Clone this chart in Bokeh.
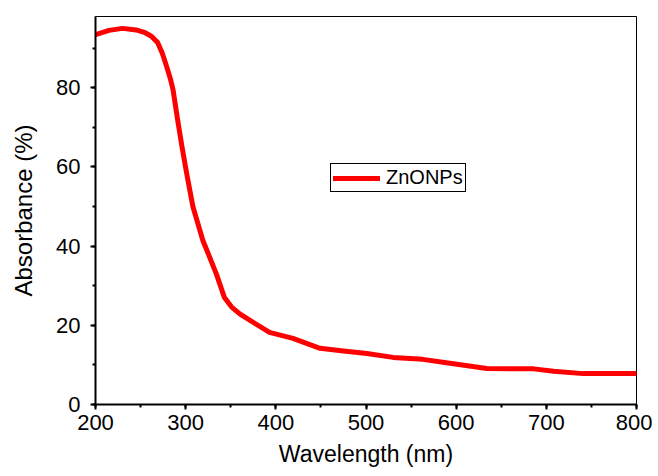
from bokeh.plotting import figure
from bokeh.models import SingleIntervalTicker, Legend, LegendItem, Range1d
from bokeh.embed import file_html
from bokeh.resources import INLINE

wavelength = [200, 215, 230, 245, 255, 262, 269, 274, 279, 283, 286, 291, 296, 301, 308, 319, 334, 343, 351, 360, 371, 393, 419, 449, 475, 501, 530, 563, 593, 634, 660, 686, 708, 741, 770, 800]
absorbance = [93.4, 94.5, 95.0, 94.6, 93.9, 93.0, 91.4, 88.8, 85.3, 82.3, 79.5, 72.0, 65.0, 58.5, 50.0, 41.5, 33.0, 27.0, 24.6, 22.9, 21.3, 18.2, 16.7, 14.2, 13.5, 12.9, 11.9, 11.4, 10.4, 9.1, 9.0, 9.0, 8.4, 7.8, 7.8, 7.8]

FONT = "Liberation Sans"

p = figure(width=652, height=476, output_backend="svg", toolbar_location=None,
           x_range=Range1d(200, 800), y_range=Range1d(0, 98),
           min_border_left=95, min_border_top=16, min_border_right=16, min_border_bottom=72)
p.grid.visible = False
p.outline_line_color = "black"
p.outline_line_width = 1
p.outline_line_alpha = 1

r = p.line(wavelength, absorbance, line_color="#ff0000", line_width=5, line_join="round", line_cap="round")

p.xaxis.ticker = SingleIntervalTicker(interval=100, num_minor_ticks=2)
p.yaxis.ticker = SingleIntervalTicker(interval=20, num_minor_ticks=2)
for ax in (p.xaxis, p.yaxis):
    ax.axis_line_width = 2
    ax.axis_line_color = "black"
    ax.major_tick_line_width = 2
    ax.minor_tick_line_width = 2
    ax.major_tick_out = 5
    ax.major_tick_in = 0
    ax.minor_tick_out = 3
    ax.minor_tick_in = 0
    ax.major_label_text_font = FONT
    ax.major_label_text_font_size = "22px"
    ax.major_label_text_color = "black"
    ax.axis_label_text_font = FONT
    ax.axis_label_text_font_style = "normal"
    ax.axis_label_text_color = "black"
p.xaxis.axis_label = "Wavelength (nm)"
p.yaxis.axis_label = "Absorbance (%)"
p.xaxis.axis_label_text_font_size = "23px"
p.yaxis.axis_label_text_font_size = "24px"
p.xaxis.major_label_standoff = 5
p.xaxis.axis_label_standoff = 8
p.yaxis.major_label_standoff = 10
p.yaxis.axis_label_standoff = 16

legend = Legend(items=[LegendItem(label="ZnONPs", renderers=[r])], location=(235, 212),
                border_line_color="black", border_line_width=1, border_line_alpha=1,
                label_text_font=FONT, label_text_font_size="20px", label_text_color="black",
                glyph_width=47, glyph_height=14, padding=2, margin=0,
                spacing=0, label_standoff=6, label_height=18,
                background_fill_alpha=1)
p.add_layout(legend, "center")

open("out.html", "w").write(file_html(p, INLINE))
